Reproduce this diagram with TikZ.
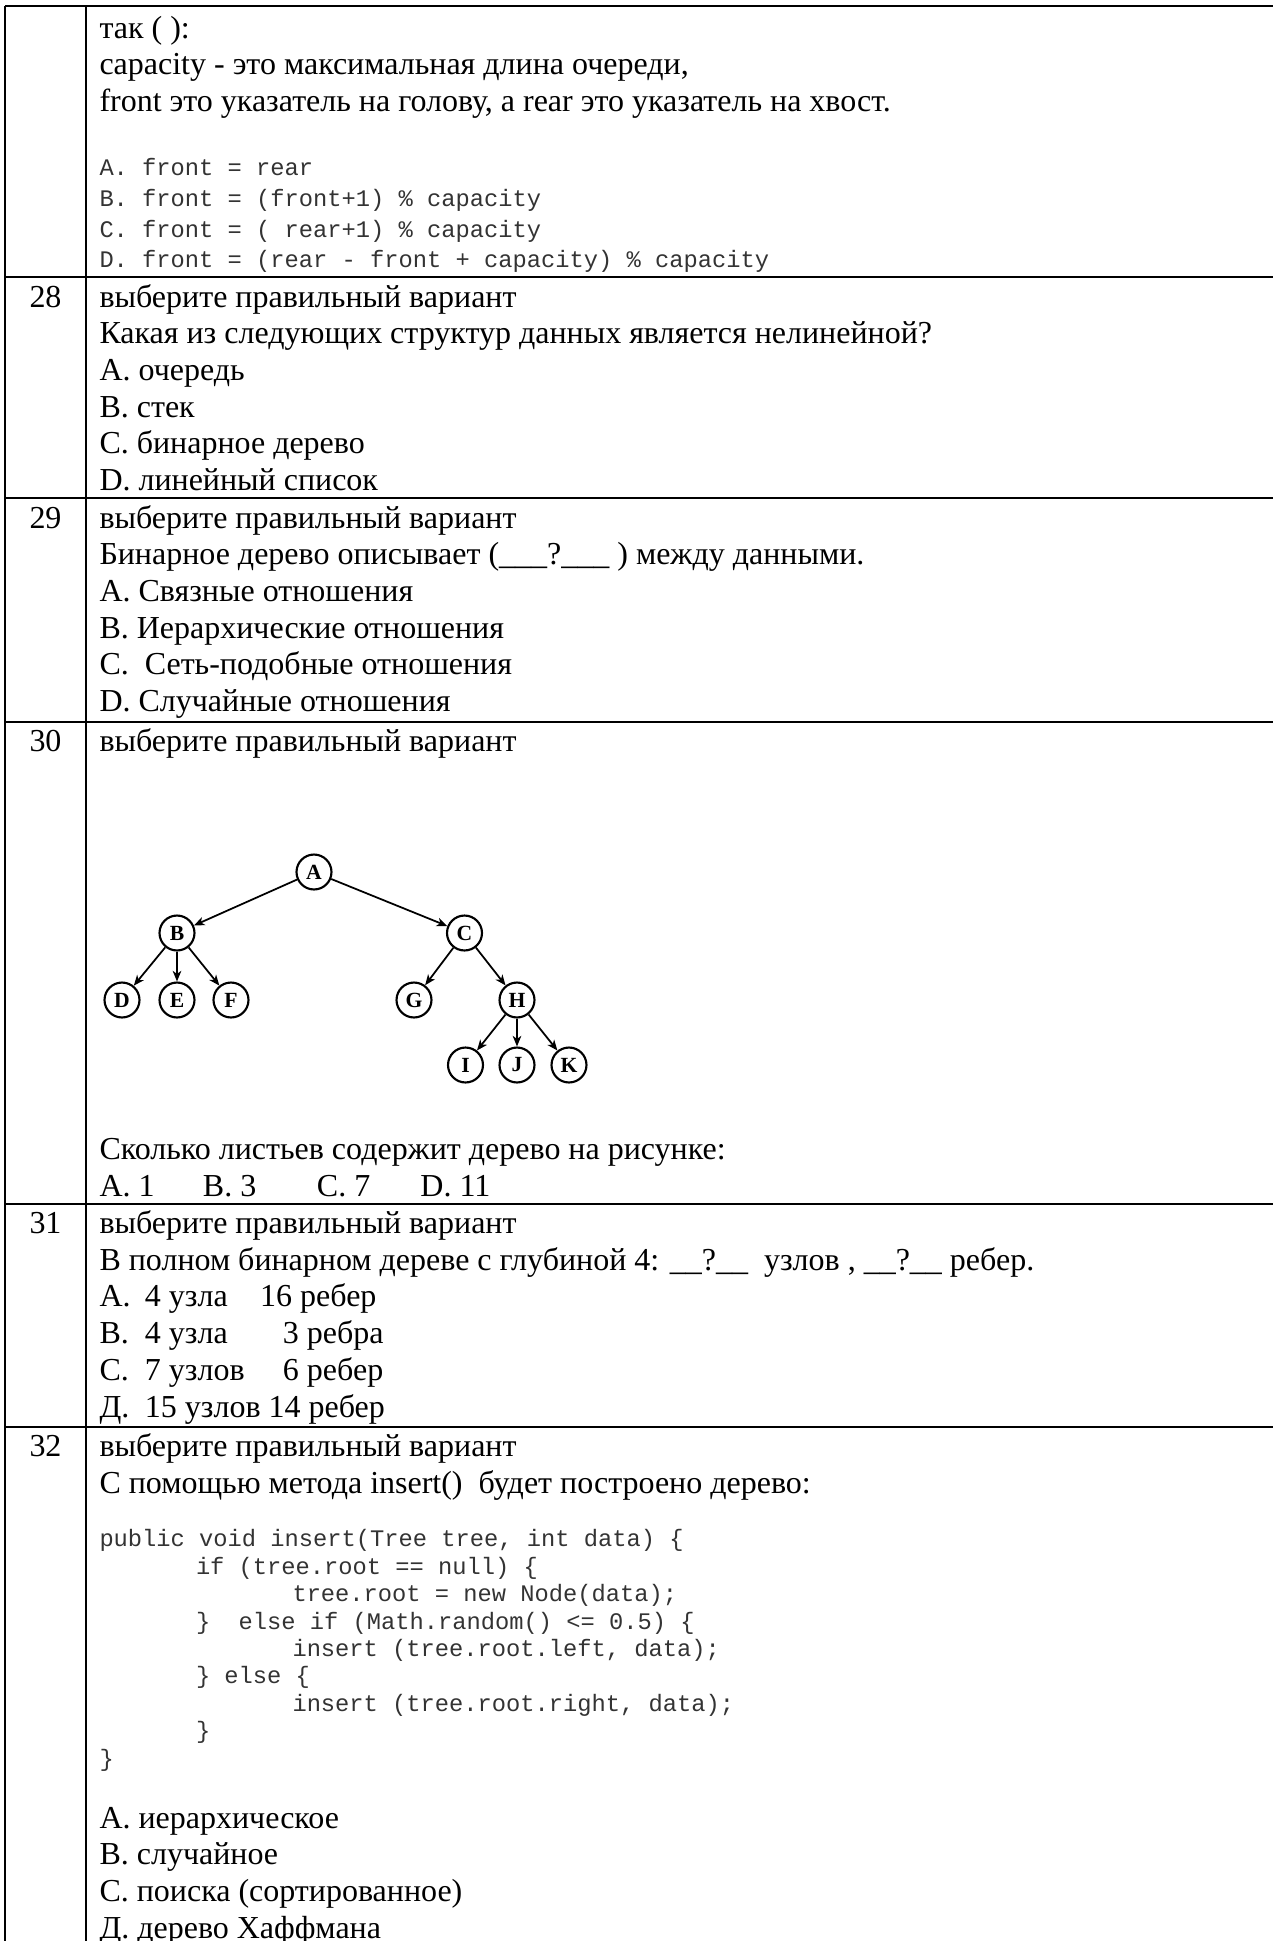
\documentclass[tikz,border=0pt]{standalone}
\usepackage{fontspec}
\setmainfont{Liberation Serif}
\setmonofont{Liberation Mono}
\usepackage{tikz}
\usetikzlibrary{arrows.meta, positioning}
\newlength{\px}
\setlength{\px}{0.3976pt}

\begin{document}
\begin{tikzpicture}[x=0.3976pt, y=-0.3976pt,
				>={Stealth[length=4.2pt, width=3.4pt, inset=1.2pt]},
				txt/.style={anchor=base west, inner sep=0pt, font=\fontsize{12.72}{14.6}\selectfont},
				num/.style={anchor=base, inner sep=0pt, font=\fontsize{12.72}{14.6}\selectfont},
				code/.style={anchor=base west, inner sep=0pt, text=black!80, font=\fontsize{9.44}{11}\ttfamily},
				vtx/.style={circle, draw, line width=0.85pt, minimum size=13.9pt, inner sep=0pt, font=\fontsize{8.6}{10}\bfseries},
				arr/.style={->, line width=0.7pt},
				rule/.style={line width=0.85pt}]
				\useasboundingbox (0,0) rectangle (1273,1941);
				% table grid
				\draw[rule] (5,6) -- (5,1941);
				\draw[rule] (86,6) -- (86,1941);
				\foreach \y in {6,277,498,722,1204,1427}
					\draw[rule] (5,\y) -- (1273,\y);
				% row 27
				\node[txt] (t27a) at (99,38) {так ( ):};
				\node[txt] (t27b) at (99,74.7) {capacity - это максимальная длина очереди,};
				\node[txt] (t27c) at (99,111.4) {front это указатель на голову, а rear это указатель на хвост.};
				\node[code] (c27a) at (99,175) {A. front = rear};
				\node[code] (c27b) at (99,206) {B. front = (front+1) \% capacity};
				\node[code] (c27c) at (99,237) {C. front = ( rear+1) \% capacity};
				\node[code] (c27d) at (99,267) {D. front = (rear - front + capacity) \% capacity};
				% row 28
				\node[num] (n28) at (45.5,307) {28};
				\node[txt] (t28a) at (99,307) {выберите правильный вариант};
				\node[txt] (t28b) at (99,343.7) {Какая из следующих структур данных является нелинейной?};
				\node[txt] (t28c) at (99,380.4) {A. очередь};
				\node[txt] (t28d) at (99,417.1) {B. стек};
				\node[txt] (t28e) at (99,453.8) {C. бинарное дерево};
				\node[txt] (t28f) at (99,490.5) {D. линейный список};
				% row 29
				\node[num] (n29) at (45.5,528) {29};
				\node[txt] (t29a) at (99,528) {выберите правильный вариант};
				\node[txt] (t29b) at (99,564.7) {Бинарное дерево описывает (\_\_\_?\_\_\_ ) между данными.};
				\node[txt] (t29c) at (99,601.4) {A. Связные отношения};
				\node[txt] (t29d) at (99,638.1) {B. Иерархические отношения};
				\node[txt] (t29e) at (99,674.8) {C.\ \ Сеть-подобные отношения};
				\node[txt] (t29f) at (99,711.5) {D. Случайные отношения};
				% row 30
				\node[num] (n30) at (45.5,751.5) {30};
				\node[txt] (t30a) at (99,751.5) {выберите правильный вариант};
				\node[vtx] (a) at (314,872) {A};
				\node[vtx] (b) at (177,933) {B};
				\node[vtx] (c) at (464.5,933) {C};
				\node[vtx] (d) at (122,1000) {D};
				\node[vtx] (e) at (177,1000) {E};
				\node[vtx] (f) at (231,1000) {F};
				\node[vtx] (g) at (414,1000) {G};
				\node[vtx] (h) at (517,1000) {H};
				\node[vtx] (i) at (465.5,1065) {I};
				\node[vtx] (j) at (517,1065) {J};
				\node[vtx] (k) at (569,1065) {K};
				\draw[arr] (a) -- (b);
				\draw[arr] (a) -- (c);
				\draw[arr] (b) -- (d);
				\draw[arr] (b) -- (e);
				\draw[arr] (b) -- (f);
				\draw[arr] (c) -- (g);
				\draw[arr] (c) -- (h);
				\draw[arr] (h) -- (i);
				\draw[arr] (h) -- (j);
				\draw[arr] (h) -- (k);
				\node[txt] (t30b) at (99,1159.5) {Сколько листьев содержит дерево на рисунке:};
				\node[txt] (t30c) at (99,1196.2) {\makebox[103.5\px][l]{A. 1}\makebox[114\px][l]{B. 3}\makebox[103.5\px][l]{C. 7}D. 11};
				% row 31
				\node[num] (n31) at (45.5,1233.5) {31};
				\node[txt] (t31a) at (99,1233.5) {выберите правильный вариант};
				\node[txt] (t31b) at (99,1270.2) {В полном бинарном дереве с глубиной 4: \_\_?\_\_\ \ узлов , \_\_?\_\_ ребер.};
				\node[txt] (t31c) at (99,1306.9) {\makebox[45.5\px][l]{А.}\makebox[115.2\px][l]{4 узла}16 ребер};
				\node[txt] (t31d) at (99,1343.6) {\makebox[45.5\px][l]{В.}\makebox[138\px][l]{4 узла}3 ребра};
				\node[txt] (t31e) at (99,1380.3) {\makebox[45.5\px][l]{С.}\makebox[138\px][l]{7 узлов}6 ребер};
				\node[txt] (t31f) at (99,1417) {\makebox[45.5\px][l]{Д.}15 узлов 14 ребер};
				% row 32
				\node[num] (n32) at (45.5,1456.5) {32};
				\node[txt] (t32a) at (99,1456.5) {выберите правильный вариант};
				\node[txt] (t32b) at (99,1493.2) {С помощью метода insert()\ \ будет построено дерево:};
				\node[code] (c32a) at (99,1546.7) {public void insert(Tree tree, int data) \{};
				\node[code] (c32b) at (195.5,1574) {if (tree.root == null) \{};
				\node[code] (c32c) at (292,1601.7) {tree.root = new Node(data);};
				\node[code] (c32d) at (195.5,1629) {\}~~else if (Math.random() <= 0.5) \{};
				\node[code] (c32e) at (292,1656.3) {insert (tree.root.left, data);};
				\node[code] (c32f) at (195.5,1683.7) {\} else \{};
				\node[code] (c32g) at (292,1711) {insert (tree.root.right, data);};
				\node[code] (c32h) at (195.5,1738.3) {\}};
				\node[code] (c32i) at (99,1766) {\}};
				\node[txt] (t32c) at (99,1828) {А. иерархическое};
				\node[txt] (t32d) at (99,1864.7) {В. случайное};
				\node[txt] (t32e) at (99,1901.4) {С. поиска (сортированное)};
				\node[txt] (t32f) at (99,1938.1) {Д. дерево Хаффмана};
			\end{tikzpicture}
\end{document}
